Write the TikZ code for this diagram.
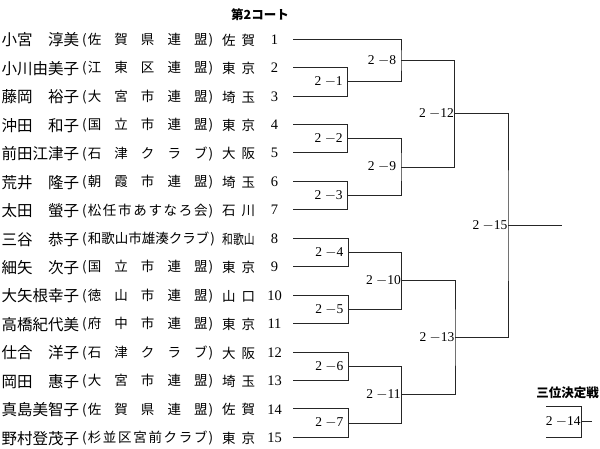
\documentclass[tikz,border=0pt]{standalone}
\usepackage{fontspec}
\usepackage{graphicx}
\setmainfont{Liberation Serif}
\newfontfamily\jp{Noto Sans CJK JP}
\usepackage{tikz}

\begin{document}
\begin{tikzpicture}[x=1pt,y=-1pt,
  nm/.style={anchor=west,inner sep=0pt,font=\jp\fontsize{15.5}{16}\selectfont},
  cl/.style={anchor=west,inner sep=0pt,font=\jp\fontsize{13.5}{14}\selectfont},
  no/.style={inner sep=0pt,font=\fontsize{14.5}{15}\selectfont},
  lbl/.style={inner sep=0pt,font=\fontsize{13.5}{15}\selectfont},
  ttl/.style={inner sep=0pt,font=\jp\bfseries\fontsize{12.5}{13}\selectfont},
  br/.style={line width=0.75pt,black!85}]
  \useasboundingbox (0,0) rectangle (600,448);
  % titles
  \node[ttl] (court) at (260,15) {第2コート};
  \node[ttl] (third) at (567.5,393) {三位決定戦};
  % players
  \foreach \i/\nm/\cl/\pf in {
      1/小宮　淳美/佐 賀 県 連 盟/佐 賀,
      2/小川由美子/江 東 区 連 盟/東 京,
      3/藤岡　裕子/大 宮 市 連 盟/埼 玉,
      4/沖田　和子/国 立 市 連 盟/東 京,
      5/前田江津子/石 津 ク ラ ブ/大 阪,
      6/荒井　隆子/朝 霞 市 連 盟/埼 玉,
      7/太田　螢子/松 任 市 あ す な ろ 会/石 川,
      8/三谷　恭子/和 歌 山 市 雄 湊 ク ラ ブ/\scalebox{.8}[1]{和歌山},
      9/細矢　次子/国 立 市 連 盟/東 京,
      10/大矢根幸子/徳 山 市 連 盟/山 口,
      11/高橋紀代美/府 中 市 連 盟/東 京,
      12/仕合　洋子/石 津 ク ラ ブ/大 阪,
      13/岡田　惠子/大 宮 市 連 盟/埼 玉,
      14/真島美智子/佐 賀 県 連 盟/佐 賀,
      15/野村登茂子/杉 並 区 宮 前 ク ラ ブ/東 京}{
    \coordinate (s\i) at (293,{39+28.45*(\i-1)});
    \node[nm] (n\i) at (1.5,{40+28.45*(\i-1)}) {\nm};
    \node[cl] (c\i) at (82,{40+28.45*(\i-1)})
      {\spaceskip=0pt plus 1fil\makebox[131pt][s]{(\kern1pt\cl\kern1pt)}};
    \node[cl] (p\i) at (222,{40+28.45*(\i-1)})
      {\spaceskip=0pt plus 1fil\makebox[33pt][s]{\pf}};
    \node[no] (k\i) at (274.5,{39.5+28.45*(\i-1)}) {\i};
  }
  % match points
  \coordinate (m1) at (347.7,81.7);
  \coordinate (m2) at (347.7,138.6);
  \coordinate (m3) at (347.7,195.5);
  \coordinate (m4) at (348.3,252.4);
  \coordinate (m5) at (348.3,309.3);
  \coordinate (m6) at (348.3,366.2);
  \coordinate (m7) at (348.3,423.1);
  \coordinate (m8) at (401,60.4);
  \coordinate (m9) at (401,167);
  \coordinate (m10) at (401.5,280.8);
  \coordinate (m11) at (401.5,394.6);
  \coordinate (m12) at (454.5,113.7);
  \coordinate (m13) at (455,337.7);
  \coordinate (m15) at (508,225.7);
  \coordinate (win) at (561.7,225.7);
  % first round
  \draw[br] (s2) -| (m1) |- (s3);
  \draw[br] (s4) -| (m2) |- (s5);
  \draw[br] (s6) -| (m3) |- (s7);
  \draw[br] (s8) -| (m4) |- (s9);
  \draw[br] (s10) -| (m5) |- (s11);
  \draw[br] (s12) -| (m6) |- (s13);
  \draw[br] (s14) -| (m7) |- (s15);
  % later rounds
  \draw[br] (s1) -| (m8) |- (m1);
  \draw[br] (m2) -| (m9) |- (m3);
  \draw[br] (m4) -| (m10) |- (m5);
  \draw[br] (m6) -| (m11) |- (m7);
  \draw[br] (m8) -| (m12) |- (m9);
  \draw[br] (m10) -| (m13) |- (m11);
  \draw[br] (m12) -| (m15) |- (m13);
  \draw[br] (m15) -- (win);
  % third place
  \coordinate (t1) at (546,406);
  \coordinate (t2) at (546,437);
  \coordinate (m14) at (581.7,421.5);
  \coordinate (t3) at (591.7,421.5);
  \draw[br] (t1) -| (m14) |- (t2);
  \draw[br] (m14) -- (t3);
  % match labels
  \node[lbl] (l1) at ([xshift=-19pt]m1) {2 $-$1};
  \node[lbl] (l2) at ([xshift=-19pt]m2) {2 $-$2};
  \node[lbl] (l3) at ([xshift=-19pt]m3) {2 $-$3};
  \node[lbl] (l4) at ([xshift=-19pt]m4) {2 $-$4};
  \node[lbl] (l5) at ([xshift=-19pt]m5) {2 $-$5};
  \node[lbl] (l6) at ([xshift=-19pt]m6) {2 $-$6};
  \node[lbl] (l7) at ([xshift=-19pt]m7) {2 $-$7};
  \node[lbl] (l8) at ([xshift=-19pt]m8) {2 $-$8};
  \node[lbl] (l9) at ([xshift=-19pt]m9) {2 $-$9};
  \node[lbl] (l10) at ([xshift=-18pt]m10) {2 $-$10};
  \node[lbl] (l11) at ([xshift=-18pt]m11) {2 $-$11};
  \node[lbl] (l12) at ([xshift=-18pt]m12) {2 $-$12};
  \node[lbl] (l13) at ([xshift=-18pt]m13) {2 $-$13};
  \node[lbl] (l14) at ([xshift=-18.5pt]m14) {2 $-$14};
  \node[lbl] (l15) at ([xshift=-18pt]m15) {2 $-$15};
\end{tikzpicture}
\end{document}
